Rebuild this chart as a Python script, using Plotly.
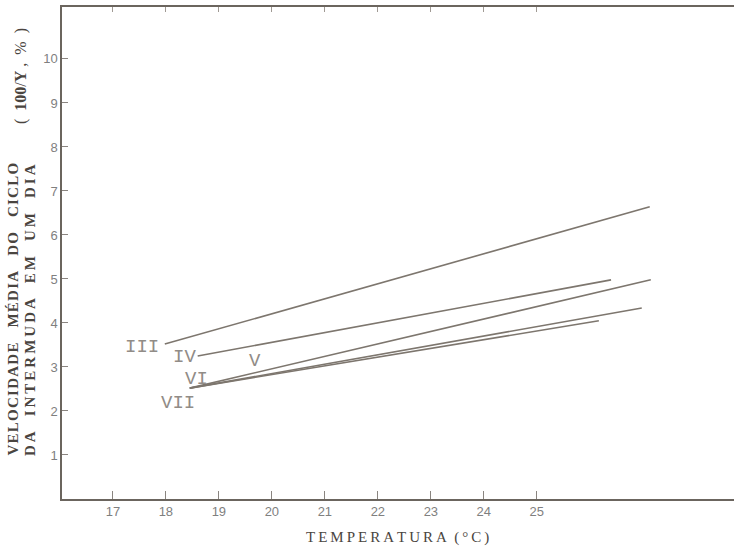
import plotly.graph_objects as go

# ---- data ----
series_names = ["III", "IV", "V", "VI", "VII"]
x_start = [17.98, 18.60, 18.45, 18.45, 18.45]
x_end = [27.13, 26.40, 27.15, 26.98, 26.17]
y_start = [3.52, 3.25, 2.52, 2.52, 2.52]
y_end = [6.64, 4.98, 4.98, 4.34, 4.05]

label_x = [17.55, 18.36, 19.68, 18.58, 18.23]
label_y = [3.45, 3.23, 3.14, 2.73, 2.18]

x_ticks = [17, 18, 19, 20, 21, 22, 23, 24, 25]
y_ticks = [1, 2, 3, 4, 5, 6, 7, 8, 9, 10]

X_RANGE = [16.04, 28.72]
Y_RANGE = [0, 11.18]

LINE_COLOR = "#7d766e"
TEXT_GRAY = "#7f7f7f"
DARK = "#4a4540"

def spaced(s, gap="\u200a", wordgap="\u2003"):
    out = []
    for w in s.split(" "):
        out.append(gap.join(list(w)))
    return wordgap.join(out)

fig = go.Figure()
for i, name in enumerate(series_names):
    fig.add_trace(go.Scatter(
        x=[x_start[i], x_end[i]], y=[y_start[i], y_end[i]],
        mode="lines", line=dict(color=LINE_COLOR, width=1.6),
        name=name, showlegend=False, hoverinfo="skip"))
    fig.add_annotation(x=label_x[i], y=label_y[i], text=name, showarrow=False,
                       font=dict(family="Liberation Mono, DejaVu Sans Mono, monospace",
                                 size=19, color="#918c87"),
                       xanchor="center", yanchor="middle")

# invisible trace on the top axis to show the top border with ticks
fig.add_trace(go.Scatter(x=X_RANGE, y=Y_RANGE, xaxis="x2", mode="markers",
                         marker=dict(opacity=0), showlegend=False, hoverinfo="skip"))

fig.update_layout(
    width=734, height=548,
    margin=dict(l=62, r=0, t=7, b=49),
    paper_bgcolor="white", plot_bgcolor="white",
    xaxis=dict(range=X_RANGE, tickvals=x_ticks, ticks="inside", ticklen=8,
               tickcolor="#8a8580", showline=True, linecolor="#6b655e", linewidth=1.5,
               showgrid=False, zeroline=False,
               tickfont=dict(family="Liberation Sans, Arial, sans-serif", size=13, color=TEXT_GRAY)),
    xaxis2=dict(range=X_RANGE, overlaying="x", side="top", tickvals=x_ticks,
                ticks="inside", ticklen=5, tickcolor="#a09a94", showticklabels=False,
                showline=True, linecolor="#6b655e", linewidth=1.5,
                showgrid=False, zeroline=False),
    yaxis=dict(range=Y_RANGE, tickvals=y_ticks, ticks="inside", ticklen=6,
               tickcolor="#8a8580", showline=True, linecolor="#6b655e", linewidth=1.5,
               showgrid=False, zeroline=False,
               tickfont=dict(family="Liberation Sans, Arial, sans-serif", size=13, color=TEXT_GRAY)),
)

title_font = dict(family="Liberation Serif, DejaVu Serif, serif", size=15, color=DARK)

# y-axis title (two lines, rotated)
fig.add_annotation(xref="paper", yref="paper", x=(12 - 62) / 672, y=(499 - 458) / 492,
                   text="<b>" + spaced("VELOCIDADE MÉDIA DO CICLO", gap="\u200a", wordgap="\u2003") + "</b>",
                   textangle=-90, showarrow=False, xanchor="center", yanchor="bottom",
                   font=title_font)
fig.add_annotation(xref="paper", yref="paper", x=(30 - 62) / 672, y=(499 - 458) / 492,
                   text="<b>" + spaced("DA INTERMUDA EM UM DIA", gap="\u2009", wordgap="\u2003") + "</b>",
                   textangle=-90, showarrow=False, xanchor="center", yanchor="bottom",
                   font=title_font)
fig.add_annotation(xref="paper", yref="paper", x=(21 - 62) / 672, y=(499 - 76) / 492,
                   text="(  <b>100</b>/<b>Y</b> ,  %  )",
                   textangle=-90, showarrow=False, xanchor="center", yanchor="middle",
                   font=dict(family="Liberation Serif, DejaVu Serif, serif", size=16, color=DARK))

# x-axis title
fig.add_annotation(xref="paper", yref="paper", x=(397 - 62) / 672, y=-(537 - 499) / 492,
                   text=spaced("TEMPERATURA (°C)", gap="\u2009", wordgap="\u2002"),
                   showarrow=False, xanchor="center", yanchor="middle",
                   font=dict(family="Liberation Serif, DejaVu Serif, serif", size=15, color=DARK))

fig.write_html("out.html", config={"displayModeBar": False},
               post_script="document.body.style.margin='0';")
